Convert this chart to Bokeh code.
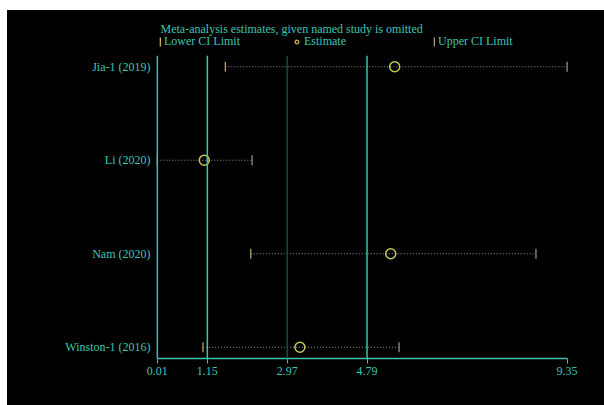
from bokeh.plotting import figure
from bokeh.layouts import column, row
from bokeh.models import (Range1d, FixedTicker, Span, Legend, LegendItem, ColumnDataSource, Label, Spacer)
from bokeh.embed import file_html
from bokeh.resources import INLINE
import math

# ---- data ----
studies = ["Jia-1 (2019)", "Li (2020)", "Nam (2020)", "Winston-1 (2016)"]
rows = [4, 3, 2, 1]
estimate = [5.42, 1.08, 5.33, 3.26]
lower_ci = [1.56, 0.01, 2.14, 1.05]
upper_ci = [9.35, 2.17, 8.64, 5.52]
overall_lower = 1.15
overall_est = 2.97
overall_upper = 4.79
axis_min = 0.01
axis_max = 9.35
x_ticks = [0.01, 1.15, 2.97, 4.79, 9.35]
x_tick_labels = ["0.01", "1.15", "2.97", "4.79", "9.35"]
title_text = "Meta-analysis estimates, given named study is omitted"
legend_labels = ["Lower CI Limit", "Estimate", "Upper CI Limit"]

TEAL = "#3cc2b0"
DIM = "#1c4842"
TEXT = "#3cc6b4"
LOW_COL = "#c8b060"
HIGH_COL = "#a09a86"
EST_COL = "#c8c850"
CI_COL = "#7f9ea0"
FONT = "Liberation Serif"
FS = "12px"

W = 597


def style(fig):
    fig.background_fill_color = "black"
    fig.border_fill_color = "black"
    fig.outline_line_color = None
    fig.frame_align = False
    fig.xgrid.visible = False
    fig.ygrid.visible = False


# ---- header (title + legend) ----
top = figure(width=W, height=45, output_backend="svg", toolbar_location=None,
             x_range=Range1d(0, W), y_range=Range1d(0, 45), min_border=0,
             x_axis_location=None, y_axis_location=None)
style(top)
top.add_layout(Label(x=153, y=27, text=title_text, text_color=TEXT, text_font=FONT,
                     text_font_size=FS, text_baseline="middle", text_align="left"))

# off-canvas key glyphs used only by the legend
d_lo = top.vbar(x=[-50], top=[-50], bottom=[-60], width=1, fill_color=LOW_COL, line_color=None)
d_est = top.scatter(x=[-50], y=[-50], marker="circle", size=9, fill_color=None,
                    line_color="#c8a040", line_width=1.4)
d_hi = top.vbar(x=[-50], top=[-50], bottom=[-60], width=1, fill_color=HIGH_COL, line_color=None)


def mk_legend(label, rend, loc, gw):
    lg = Legend(items=[LegendItem(label=label, renderers=[rend])], location=loc,
                orientation="horizontal", padding=0, margin=0, spacing=0,
                glyph_width=gw, glyph_height=11, label_standoff=3,
                background_fill_alpha=0, border_line_color=None,
                label_text_color=TEXT, label_text_font=FONT, label_text_font_size=FS,
                label_height=11)
    top.add_layout(lg)


mk_legend(legend_labels[0], d_lo, (152, 6), 2)
mk_legend(legend_labels[1], d_est, (285, 6), 9)
mk_legend(legend_labels[2], d_hi, (426, 6), 2)

# ---- main plot ----
src = ColumnDataSource(dict(y=rows, est=estimate, lo=lower_ci, hi=upper_ci))

p = figure(width=W, height=350, output_backend="svg", toolbar_location=None,
           x_range=Range1d(-0.1, 9.45), y_range=Range1d(0.88, 4.12),
           min_border_left=145, min_border_right=33, min_border_top=0, min_border_bottom=47)
style(p)

for xv, col in [(axis_min, TEAL), (overall_lower, TEAL), (overall_est, DIM), (overall_upper, TEAL)]:
    p.add_layout(Span(location=xv, dimension="height", line_color=col, line_width=1.5))

p.segment(x0="lo", x1="hi", y0="y", y1="y", source=src, line_color=CI_COL,
          line_width=1, line_dash="1 2")
p.scatter(x="lo", y="y", source=src, marker="dash", angle=math.pi / 2, size=10,
          line_color=LOW_COL, line_width=1.2)
p.scatter(x="hi", y="y", source=src, marker="dash", angle=math.pi / 2, size=10,
          line_color=HIGH_COL, line_width=1.2)
p.scatter(x="est", y="y", source=src, marker="circle", size=10,
          fill_color=None, line_color=EST_COL, line_width=1.5)

xa = p.xaxis[0]
xa.ticker = FixedTicker(ticks=x_ticks)
xa.major_label_overrides = {t: l for t, l in zip(x_ticks, x_tick_labels)}
xa.bounds = (axis_min, axis_max)
xa.axis_line_color = TEAL
xa.axis_line_width = 1.5
xa.major_tick_line_color = TEAL
xa.major_tick_in = 0
xa.major_tick_out = 5
xa.minor_tick_line_color = None
xa.major_label_text_color = TEXT
xa.major_label_text_font = FONT
xa.major_label_text_font_size = FS
xa.major_label_standoff = 3

ya = p.yaxis[0]
ya.ticker = FixedTicker(ticks=rows)
ya.major_label_overrides = {r: s for r, s in zip(rows, studies)}
ya.axis_line_color = None
ya.major_tick_line_color = None
ya.minor_tick_line_color = None
ya.major_tick_out = 0
ya.major_label_standoff = 2
ya.major_label_text_color = TEXT
ya.major_label_text_font = FONT
ya.major_label_text_font_size = FS

white = {"background-color": "white"}
layout = column(
    Spacer(width=604, height=10, styles=white),
    row(Spacer(width=7, height=395, styles=white), column(top, p, spacing=0), spacing=0),
    spacing=0)
html = file_html(layout, INLINE)
html = html.replace("<head>", "<head><style>html,body{background:#000;}</style>", 1)
open("out.html", "w").write(html)
